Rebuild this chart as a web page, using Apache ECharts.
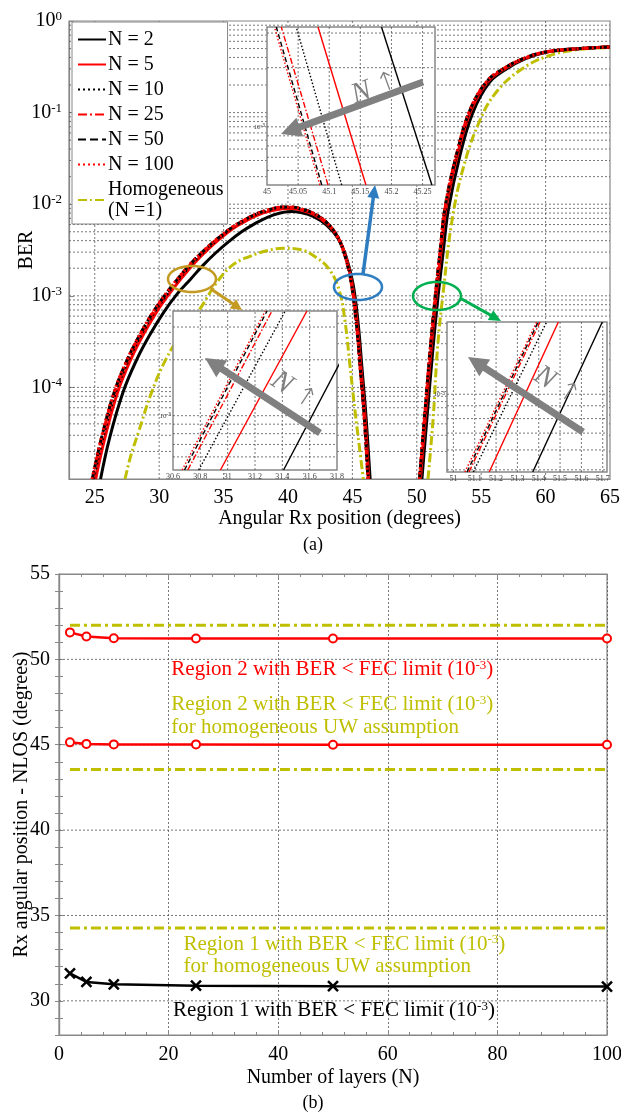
<!DOCTYPE html>
<html><head><meta charset="utf-8">
<script src="https://cdn.jsdelivr.net/npm/echarts@6/dist/echarts.min.js"></script>
<style>html,body{margin:0;padding:0;background:#fff}#c{width:621px;height:1113px}</style>
</head><body><div id="c"></div>
<script>
// ---------------- DATA ----------------
// (a) BER vs angular Rx position, region 1 and region 2 of each curve: [angle, BER]
const n2_R1 = [[25.45,1.0e-5],[26.15,2.8e-5],[27.2,8.9e-5],[28.25,2.0e-4],[29.3,3.8e-4],[30.35,6.6e-4],[31.4,1.05e-3],[32.4,1.5e-3],[33.4,2.15e-3],[34.4,2.95e-3],[35.4,3.9e-3],[36.4,5.0e-3],[37.4,6.1e-3],[38.4,7.2e-3],[39.4,8.0e-3],[40.2,8.3e-3],[41.0,8.1e-3],[42.0,7.3e-3],[43.0,5.9e-3],[43.9,4.2e-3],[44.5,2.7e-3],[45.05,1.35e-3],[45.45,5.0e-4],[45.75,1.6e-4],[46.05,5.0e-5],[46.38,1.0e-5]];
const n2_R2 = [[50.4,1.0e-5],[50.8,4.8e-5],[51.25,2.6e-4],[51.65,9.8e-4],[52.05,3.0e-3],[52.45,8.7e-3],[53.35,3.4e-2],[54.35,0.10],[55.6,0.21],[56.9,0.295],[58.4,0.385],[60.2,0.46],[62.7,0.50],[65.0,0.52]];
const n5_R1 = [[25.07,1e-5],[25.78,2.8e-5],[26.78,8.9e-5],[27.78,2.0e-4],[28.78,3.8e-4],[29.78,6.6e-4],[30.78,1.05e-3],[31.77,1.58e-3],[32.76,2.3e-3],[33.74,3.16e-3],[34.72,4.2e-3],[35.7,5.4e-3],[36.67,6.5e-3],[37.64,7.6e-3],[38.6,8.4e-3],[39.56,8.9e-3],[40.3,9.0e-3],[41.05,8.6e-3],[42.05,7.7e-3],[43.05,6.1e-3],[43.86,4.4e-3],[44.46,2.75e-3],[44.96,1.4e-3],[45.37,5.0e-4],[45.67,1.6e-4],[45.97,5.0e-5],[46.27,1.0e-5]];
const n5_R2 = [[50.28,1e-5],[50.67,4.8e-5],[51.11,2.6e-4],[51.5,9.8e-4],[51.89,3.1e-3],[52.27,9.1e-3],[53.18,3.55e-2],[54.2,0.105],[55.5,0.217],[56.79,0.30],[58.33,0.388],[60.14,0.461],[62.7,0.50],[65.0,0.52]];
const n10_R1 = [[24.91,1e-5],[25.62,2.8e-5],[26.62,8.9e-5],[27.62,2.0e-4],[28.62,3.8e-4],[29.62,6.6e-4],[30.62,1.05e-3],[31.62,1.58e-3],[32.62,2.3e-3],[33.61,3.16e-3],[34.6,4.2e-3],[35.59,5.4e-3],[36.58,6.6e-3],[37.56,7.8e-3],[38.54,8.6e-3],[39.52,9.2e-3],[40.3,9.2e-3],[41.02,8.85e-3],[42.02,7.9e-3],[43.02,6.3e-3],[43.83,4.5e-3],[44.43,2.8e-3],[44.93,1.4e-3],[45.33,5.0e-4],[45.63,1.6e-4],[45.93,5.0e-5],[46.23,1.0e-5]];
const n10_R2 = [[50.24,1e-5],[50.63,4.8e-5],[51.07,2.6e-4],[51.46,9.8e-4],[51.85,3.15e-3],[52.23,9.2e-3],[53.14,3.58e-2],[54.17,0.106],[55.47,0.218],[56.76,0.301],[58.3,0.389],[60.12,0.462],[62.69,0.50],[65.0,0.52]];
const n25_R1 = [[24.83,1e-5],[25.54,2.8e-5],[26.54,8.9e-5],[27.54,2.0e-4],[28.54,3.8e-4],[29.54,6.6e-4],[30.54,1.05e-3],[31.54,1.58e-3],[32.54,2.3e-3],[33.54,3.16e-3],[34.54,4.2e-3],[35.54,5.4e-3],[36.53,6.6e-3],[37.53,7.8e-3],[38.52,8.7e-3],[39.5,9.25e-3],[40.3,9.25e-3],[41.0,8.9e-3],[42.0,7.9e-3],[43.0,6.3e-3],[43.81,4.5e-3],[44.41,2.8e-3],[44.91,1.4e-3],[45.31,5.0e-4],[45.61,1.6e-4],[45.91,5.0e-5],[46.21,1.0e-5]];
const n25_R2 = [[50.22,1e-5],[50.61,4.8e-5],[51.05,2.6e-4],[51.44,9.8e-4],[51.83,3.16e-3],[52.21,9.3e-3],[53.12,3.6e-2],[54.15,0.107],[55.45,0.219],[56.74,0.302],[58.29,0.389],[60.11,0.462],[62.68,0.50],[65.0,0.52]];
const n50_R1 = [[24.81,1e-5],[25.52,2.8e-5],[26.52,8.9e-5],[27.52,2.0e-4],[28.52,3.8e-4],[29.52,6.6e-4],[30.52,1.05e-3],[31.52,1.58e-3],[32.52,2.3e-3],[33.52,3.16e-3],[34.52,4.2e-3],[35.52,5.4e-3],[36.52,6.6e-3],[37.52,7.8e-3],[38.5,8.7e-3],[39.5,9.3e-3],[40.3,9.3e-3],[41.0,8.9e-3],[42.0,7.9e-3],[43.0,6.3e-3],[43.8,4.5e-3],[44.4,2.8e-3],[44.9,1.4e-3],[45.31,5.0e-4],[45.61,1.6e-4],[45.91,5.0e-5],[46.21,1.0e-5]];
const n50_R2 = [[50.21,1e-5],[50.6,4.8e-5],[51.04,2.6e-4],[51.43,9.8e-4],[51.82,3.16e-3],[52.2,9.3e-3],[53.11,3.6e-2],[54.14,0.107],[55.44,0.219],[56.73,0.302],[58.28,0.389],[60.1,0.462],[62.68,0.50],[65.0,0.52]];
const n100_R1 = [[24.79,1.0e-5],[25.5,2.8e-5],[26.5,8.9e-5],[27.5,2.0e-4],[28.5,3.8e-4],[29.5,6.6e-4],[30.5,1.05e-3],[31.5,1.58e-3],[32.5,2.3e-3],[33.5,3.16e-3],[34.5,4.2e-3],[35.5,5.4e-3],[36.5,6.6e-3],[37.5,7.8e-3],[38.5,8.7e-3],[39.5,9.3e-3],[40.3,9.3e-3],[41.0,8.9e-3],[42.0,7.9e-3],[43.0,6.3e-3],[43.8,4.5e-3],[44.4,2.8e-3],[44.9,1.4e-3],[45.3,5.0e-4],[45.6,1.6e-4],[45.9,5.0e-5],[46.2,1.0e-5]];
const n100_R2 = [[50.2,1.0e-5],[50.59,4.8e-5],[51.03,2.6e-4],[51.42,9.8e-4],[51.81,3.16e-3],[52.19,9.3e-3],[53.1,3.6e-2],[54.13,0.107],[55.43,0.219],[56.72,0.302],[58.27,0.389],[60.09,0.462],[62.67,0.50],[65.0,0.52]];
const hom_R1 = [[27.35,1e-5],[27.8,1.8e-5],[28.38,3.2e-5],[29.42,8.9e-5],[30.5,2.0e-4],[31.8,4.0e-4],[33.17,7.2e-4],[34.47,1.4e-3],[35.76,2.2e-3],[37.05,2.7e-3],[38.35,3.1e-3],[39.64,3.3e-3],[40.93,3.2e-3],[42.23,2.6e-3],[43.26,1.9e-3],[44.0,1.12e-3],[44.45,5.0e-4],[44.8,1.8e-4],[45.2,5.6e-5],[45.55,2.2e-5],[45.85,1e-5]];
const hom_R2 = [[50.87,1e-5],[51.28,4.8e-5],[51.62,2.8e-4],[52.06,1.12e-3],[52.71,6.3e-3],[53.61,2.5e-2],[54.91,8.3e-2],[56.21,0.17],[58.02,0.29],[60.09,0.41],[62.67,0.49],[65.0,0.51]];

// insets: each line as [x at inset bottom edge, x at inset top edge]
const inset1Y = [5.06e-4, 3.22e-3];
const inset1 = {n2:[45.265,45.184], n5:[45.159,45.082], n10:[45.12,45.047], n25:[45.098,45.023], n50:[45.088,45.015], n100:[45.085,45.012]};
const inset2Y = [5.1e-4, 3.66e-3];
const inset2 = {n2:[31.409,32.02], n5:[30.947,31.58], n10:[30.788,31.421], n25:[30.708,31.324], n50:[30.684,31.288], n100:[30.667,31.275]};
const inset3Y = [4.9e-4, 1.94e-3];
const inset3 = {n2:[51.372,51.698], n5:[51.168,51.492], n10:[51.093,51.437], n25:[51.073,51.406], n50:[51.064,51.397], n100:[51.054,51.39]};

// (b) Rx angular position vs number of layers
const layersN = [2, 5, 10, 25, 50, 100];
const region2Upper = [51.58, 51.34, 51.24, 51.22, 51.22, 51.22];
const region2Lower = [45.14, 45.05, 45.02, 45.02, 45.0, 45.0];
const region1 = [31.61, 31.11, 30.97, 30.89, 30.86, 30.84];
const homN = [2, 100];
const homRegion2Upper = [52.0, 52.0];
const homRegion2Lower = [43.55, 43.55];
const homRegion1 = [34.26, 34.26];

const legendNames = ['N = 2','N = 5','N = 10','N = 25','N = 50','N = 100','Homogeneous'];

// ---------------- STYLES ----------------
const FONT = "'Liberation Serif','Times New Roman',serif";
const RED = '#ff0000', YEL = '#bfbf00', GRAY = '#808080';
const DOT = [2,3], DASH = [8,4], DASHDOT = [9,3,2,3];
const sty = {
  n2:{c:'#000', t:'solid'}, n5:{c:RED, t:'solid'}, n10:{c:'#000', t:DOT},
  n25:{c:RED, t:DASHDOT}, n50:{c:'#000', t:DASH}, n100:{c:RED, t:DOT}
};
const keys = ['n2','n5','n10','n25','n50','n100'];
const mainData = {
  n2:[n2_R1,n2_R2], n5:[n5_R1,n5_R2], n10:[n10_R1,n10_R2],
  n25:[n25_R1,n25_R2], n50:[n50_R1,n50_R2], n100:[n100_R1,n100_R2]
};
const GAP = [[48, '-']];

const supRich = (big, small) => ({b:{fontSize:big, fontFamily:FONT, color:'#000', lineHeight:big+2}, s:{fontSize:small, fontFamily:FONT, color:'#000', lineHeight:small, verticalAlign:'top'}});

// grid lines drawn as broken line series through the axes' own scales
function gridLineSeries(gi, xs, ys, xr, yr, z) {
  const d = [];
  xs.forEach(x => { d.push([x, yr[0]], [x, yr[1]], [x, '-']); });
  ys.forEach(y => { d.push([xr[0], y], [xr[1], y], [xr[1], '-']); });
  return {type:'line', xAxisIndex:gi, yAxisIndex:gi, data:d, silent:true, z:z, symbol:'none', showSymbol:false,
    connectNulls:false, lineStyle:{color:'#555', type:[2,2], width:0.8}, tooltip:{show:false}};
}
const logMinors = (lo, hi) => { const r=[]; for (let d=-6; d<=0; d++) for (let k=1;k<=9;k++){ const v=+(k*Math.pow(10,d)).toPrecision(3); if (v>lo*1.0001 && v<hi*0.9999) r.push(v);} return r; };

const series = [];
series.push(gridLineSeries(0, [25,30,35,40,45,50,55,60], logMinors(1e-5,1), [23,65], [1e-5,1], 1));
series.push({name:'Homogeneous', type:'line', xAxisIndex:0, yAxisIndex:0, data:hom_R1.concat(GAP, hom_R2),
  showSymbol:false, symbol:'none', smooth:0.4, z:2,
  lineStyle:{color:YEL, width:3, type:DASHDOT}, itemStyle:{color:YEL}});
keys.forEach((k,i) => {
  series.push({name:legendNames[i], type:'line', xAxisIndex:0, yAxisIndex:0,
    data:mainData[k][0].concat(GAP, mainData[k][1]), showSymbol:false, symbol:'none',
    smooth:0.4, z:3,
    lineStyle:{color:sty[k].c, width:3, type:sty[k].t}, itemStyle:{color:sty[k].c}});
});
const insets = [[inset1, inset1Y], [inset2, inset2Y], [inset3, inset3Y]];
const insetXR = [[45,45.27],[30.6,31.8],[50.97,51.72]];
const insetGridX = [[45.05,45.1,45.15,45.2,45.25],[30.8,31,31.2,31.4,31.6],[51,51.1,51.2,51.3,51.4,51.5,51.6,51.7]];
insets.forEach((ins, j) => {
  const gi = j+1;
  series.push(gridLineSeries(gi, insetGridX[j], logMinors(ins[1][0], ins[1][1]), insetXR[j], ins[1], 12));
  keys.forEach(k => {
    series.push({name:'inset'+gi+'-'+k, type:'line', xAxisIndex:gi, yAxisIndex:gi,
      data:[[ins[0][k][0], ins[1][0]], [ins[0][k][1], ins[1][1]]], showSymbol:false, symbol:'none', z:13, clip:true,
      lineStyle:{color:sty[k].c, width:1.4, type:(sty[k].t==='solid'?'solid':(sty[k].t===DOT?[1.5,2]:(sty[k].t===DASH?[5,3]:[6,2,1.5,2])))}});
  });
});
series.push(gridLineSeries(4, [], [30,35,40,45,50], [0,100], [28,55], 1));
[homRegion2Upper, homRegion2Lower, homRegion1].forEach((arr,i) => series.push({name:'hom-b'+i, type:'line', xAxisIndex:4, yAxisIndex:4,
  data:homN.map((n,j)=>[n, arr[j]]), showSymbol:false, symbol:'none', z:2,
  lineStyle:{color:YEL, width:3, type:[10,4,3,4]}}));
[region2Upper, region2Lower].forEach((arr,i) => series.push({name:'r2-'+i, type:'line', xAxisIndex:4, yAxisIndex:4,
  data:layersN.map((n,j)=>[n, arr[j]]), symbol:'emptyCircle', symbolSize:8, z:3,
  lineStyle:{color:RED, width:2.5}, itemStyle:{color:RED, borderColor:RED, borderWidth:2}}));
series.push({name:'r1', type:'line', xAxisIndex:4, yAxisIndex:4,
  data:layersN.map((n,j)=>[n, region1[j]]), symbol:'path://M0,0L10,10M10,0L0,10', symbolSize:10, z:3,
  lineStyle:{color:'#000', width:2.5}, itemStyle:{color:'#000', borderColor:'#000', borderWidth:2.5}});

const gbase = {outerBoundsMode:'none', containLabel:false, show:true};
const grids = [
  Object.assign({left:69, top:21, width:541, height:458, borderColor:'#888', borderWidth:1.2, z:0}, gbase),
  Object.assign({left:267, top:27, width:168, height:158, backgroundColor:'#fff', borderColor:'#888', borderWidth:1.5, z:10}, gbase),
  Object.assign({left:173, top:311, width:164, height:159, backgroundColor:'#fff', borderColor:'#888', borderWidth:1.5, z:10}, gbase),
  Object.assign({left:447, top:322, width:160, height:150, backgroundColor:'#fff', borderColor:'#888', borderWidth:1.5, z:10}, gbase),
  Object.assign({left:59, top:574, width:548, height:461, borderColor:'#888', borderWidth:1.2, z:0}, gbase)
];
const axLine = {show:true, lineStyle:{color:'#888', width:1.2}};
const insX = (gi, min, max, interval, fmt) => ({type:'value', gridIndex:gi, min, max, interval, z:11,
  axisLine:{show:false}, axisTick:{show:false}, splitLine:{show:false},
  axisLabel:{fontSize:8, fontFamily:FONT, color:'#444', margin:3, formatter:fmt}});
const insY = (gi, r) => ({type:'log', logBase:10, gridIndex:gi, min:r[0], max:r[1], z:11,
  axisLine:{show:false}, axisTick:{show:false}, splitLine:{show:false}, axisLabel:{show:false}});

const xAxis = [
  {type:'value', gridIndex:0, min:23, max:65, interval:1, axisLine:axLine, axisTick:{show:false}, splitLine:{show:false},
    axisLabel:{fontSize:20, fontFamily:FONT, color:'#000', margin:9, formatter:v=> (Math.abs(v%5)<1e-9 ? String(v) : '')},
    name:'Angular Rx position (degrees)', nameLocation:'middle', nameGap:28, nameTextStyle:{fontSize:20, fontFamily:FONT, color:'#000'}},
  insX(1, 45, 45.27, 0.05, v=>String(+v.toFixed(2))),
  insX(2, 30.6, 31.8, 0.2, v=>String(+v.toFixed(1))),
  insX(3, 50.97, 51.72, 0.01, v=> (Math.abs(v*10-Math.round(v*10))<1e-6 && v>50.99 ? String(+v.toFixed(1)) : '')),
  {type:'value', gridIndex:4, min:0, max:100, interval:20, axisLine:axLine,
    axisTick:{show:true, inside:true, length:5, lineStyle:{color:'#888'}},
    minorTick:{show:true, splitNumber:5, length:3, lineStyle:{color:'#888'}},
    splitLine:{show:true, lineStyle:{color:'#555', type:[2,2], width:0.8}},
    axisLabel:{fontSize:20, fontFamily:FONT, color:'#000', margin:10},
    name:'Number of layers (N)', nameLocation:'middle', nameGap:33, nameTextStyle:{fontSize:20, fontFamily:FONT, color:'#000'}},
  {type:'value', gridIndex:4, position:'top', min:0, max:100, interval:20, axisLine:axLine,
    axisTick:{show:true, inside:true, length:5, lineStyle:{color:'#888'}},
    minorTick:{show:true, splitNumber:5, length:3, lineStyle:{color:'#888'}},
    splitLine:{show:false}, axisLabel:{show:false}}
];
const yAxis = [
  {type:'log', logBase:10, gridIndex:0, min:1e-5, max:1, axisLine:axLine,
    axisTick:{show:true, inside:true, length:5, lineStyle:{color:'#888'}}, splitLine:{show:false},
    axisLabel:{margin:7, formatter:v=>{const e=Math.round(Math.log10(v)); return e<=-5 ? '' : '{b|10}{s|'+e+'}';}, rich:supRich(20,13)},
    name:'BER', nameLocation:'middle', nameGap:32, nameMoveOverlap:false, nameTextStyle:{fontSize:20, fontFamily:FONT, color:'#000'}},
  insY(1, inset1Y), insY(2, inset2Y), insY(3, inset3Y),
  {type:'value', gridIndex:4, min:28, max:55, interval:1, axisLine:axLine,
    axisTick:{show:true, inside:true, length:4, lineStyle:{color:'#888'}}, splitLine:{show:false},
    axisLabel:{fontSize:20, fontFamily:FONT, color:'#000', margin:9, formatter:v=> (v%5===0 ? String(v) : '')},
    name:'Rx angular position - NLOS (degrees)', nameLocation:'middle', nameGap:27, nameMoveOverlap:false, nameTextStyle:{fontSize:20, fontFamily:FONT, color:'#000'}},
  {type:'value', gridIndex:4, position:'right', min:28, max:55, interval:1, axisLine:axLine,
    axisTick:{show:true, inside:true, length:4, lineStyle:{color:'#888'}}, splitLine:{show:false}, axisLabel:{show:false}}
];

const chart = echarts.init(document.getElementById('c'), null, {renderer:'canvas'});
chart.setOption({
  animation:false, backgroundColor:'#fff',
  grid:grids, xAxis, yAxis, series,
  legend:{data:legendNames, orient:'vertical', left:72, top:22, padding:[7,4,3,5], itemGap:4, itemWidth:28, itemHeight:14,
    backgroundColor:'#fff', borderColor:'#888', borderWidth:1, z:20,
    itemStyle:{color:'rgba(0,0,0,0)', borderWidth:0, opacity:0},
    formatter:n => n==='Homogeneous' ? 'Homogeneous\n(N =1)' : n,
    textStyle:{fontSize:20, fontFamily:FONT, color:'#000', lineHeight:21, padding:[0,0,0,-3]}}
});

// ---------------- ANNOTATIONS ----------------
function arrowPts(x1,y1,x2,y2,w,hl,hw){
  const dx=x2-x1, dy=y2-y1, L=Math.hypot(dx,dy), ux=dx/L, uy=dy/L, px=-uy, py=ux;
  const bx=x2-ux*hl, by=y2-uy*hl;
  return [[x1+px*w/2,y1+py*w/2],[bx+px*w/2,by+py*w/2],[bx+px*hw/2,by+py*hw/2],[x2,y2],[bx-px*hw/2,by-py*hw/2],[bx-px*w/2,by-py*w/2],[x1-px*w/2,y1-py*w/2]];
}
function ellipsePts(cx,cy,rx,ry){ const p=[]; for(let i=0;i<48;i++){const a=i/48*2*Math.PI; p.push([cx+rx*Math.cos(a), cy+ry*Math.sin(a)]);} return p; }
const G = [];
const ell = (cx,cy,rx,ry,c) => G.push({type:'polygon', z:100, shape:{points:ellipsePts(cx,cy,rx,ry)}, style:{fill:'none', stroke:c, lineWidth:2.5}});
const arr = (x1,y1,x2,y2,c,w,hl,hw) => G.push({type:'polygon', z:100, shape:{points:arrowPts(x1,y1,x2,y2,w,hl,hw)}, style:{fill:c}});
const GOLD='#c49a22', BLUE='#2f7dc1', GREEN='#00b050';
ell(192,279,24,13,GOLD); arr(211,289,242,310,GOLD,3,11,11);
ell(358,287,24,13,BLUE); arr(363,274,375,185,BLUE,3.5,13,12);
ell(437,296,24,14,GREEN); arr(460,298,501,321,GREEN,3,12,11);
arr(423,82,281,134,GRAY,7,20,20);
arr(320,433,205,358,GRAY,7,20,20);
arr(583,432,468,357,GRAY,7,20,20);
const nText = (x,y,rot) => G.push({type:'text', z:101, x, y, rotation:rot,
  style:{text:'{n|N} {a|\u2191}', fill:GRAY, fontSize:29, fontFamily:FONT, align:'center', verticalAlign:'middle',
    rich:{n:{fontSize:29, fontStyle:'italic', fontFamily:FONT, fill:GRAY, lineHeight:30},
          a:{fontSize:26, fontFamily:"'DejaVu Sans Light','DejaVu Sans',sans-serif", fill:GRAY, lineHeight:30}}}});
nText(375,88,0.35); nText(294,391,-0.58); nText(557,386,-0.58);
[1,2,3].forEach(gi => { const p = chart.convertToPixel({gridIndex:gi}, [insetXR[gi-1][0], 1e-3]);
  G.push({type:'text', z:101, x:p[0]-2, y:p[1], style:{text:'10{s|-3}', fill:'#444', fontSize:7, fontFamily:FONT, align:'right', verticalAlign:'middle',
    rich:{s:{fontSize:5, lineHeight:5, verticalAlign:'top', fill:'#444'}}}}); });
G.push({type:'text', z:101, x:313, y:545, style:{text:'(a)', fill:'#000', font:"18px 'Liberation Serif', serif", align:'center', verticalAlign:'middle'}});
G.push({type:'text', z:101, x:313, y:1103, style:{text:'(b)', fill:'#000', font:"18px 'Liberation Serif', serif", align:'center', verticalAlign:'middle'}});
const supR = c => ({s:{fontSize:13, lineHeight:13, verticalAlign:'top', fill:c, fontFamily:FONT}});
const bText = (n, v, txt, c) => { const p = chart.convertToPixel({gridIndex:4}, [n, v]);
  G.push({type:'text', z:101, x:p[0], y:p[1], style:{text:txt, fill:c, fontSize:21, fontFamily:FONT, align:'left', verticalAlign:'middle', rich:supR(c)}}); };
bText(20.5, 49.43, 'Region 2 with BER < FEC limit (10{s|-3})', RED);
bText(20.5, 47.33, 'Region 2 with BER < FEC limit (10{s|-3})', YEL);
bText(20.5, 46.0, 'for homogeneous UW assumption', YEL);
bText(22.7, 33.33, 'Region 1 with BER < FEC limit (10{s|-3})', YEL);
bText(22.7, 32.0, 'for homogeneous UW assumption', YEL);
bText(20.8, 29.44, 'Region 1 with BER < FEC limit (10{s|-3})', '#000');
chart.setOption({graphic:G});
</script></body></html>
